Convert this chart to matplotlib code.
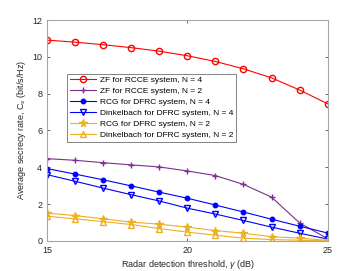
import matplotlib
matplotlib.use('Agg')
import matplotlib.pyplot as plt
import numpy as np

plt.rcParams['font.family'] = ['Liberation Sans', 'DejaVu Sans']
plt.rcParams['mathtext.fontset'] = 'custom'
plt.rcParams['mathtext.rm'] = 'Liberation Sans'
plt.rcParams['mathtext.it'] = 'Liberation Sans:italic'

gamma = np.arange(15, 26)
zf_n4 = [10.91, 10.8, 10.66, 10.5, 10.31, 10.06, 9.75, 9.35, 8.86, 8.2, 7.45]
zf_n2 = [4.47, 4.38, 4.25, 4.13, 4.02, 3.8, 3.55, 3.07, 2.38, 0.98, 0.12]
rcg_n4 = [3.93, 3.63, 3.32, 2.99, 2.65, 2.32, 1.95, 1.57, 1.18, 0.8, 0.43]
dink_n4 = [3.6, 3.24, 2.87, 2.51, 2.17, 1.78, 1.46, 1.11, 0.75, 0.42, 0.1]
rcg_n2 = [1.51, 1.38, 1.2, 1.02, 0.91, 0.75, 0.56, 0.42, 0.23, 0.15, 0.03]
dink_n2 = [1.34, 1.2, 1.05, 0.89, 0.67, 0.48, 0.31, 0.15, 0.07, 0.04, 0.0]

purple = (0.49, 0.18, 0.56)
yellow = (0.93, 0.69, 0.13)

fig = plt.figure(figsize=(3.62, 2.71), dpi=100)
ax = fig.add_axes([0.13, 0.111, 0.775, 0.815])

lw = 0.8
ax.plot(gamma, zf_n4, color='r', marker='o', mfc='none', ms=4.5, lw=lw, label='ZF for RCCE system, N = 4')
ax.plot(gamma, zf_n2, color=purple, marker='+', ms=5, lw=lw, label='ZF for RCCE system, N = 2')
ax.plot(gamma, rcg_n4, color='b', marker='o', ms=3.2, lw=lw, label='RCG for DFRC system, N = 4')
ax.plot(gamma, dink_n4, color='b', marker='v', mfc='none', ms=4.5, lw=lw, label='Dinkelbach for DFRC system, N = 4')
ax.plot(gamma, rcg_n2, color=yellow, marker='*', ms=5.5, lw=lw, label='RCG for DFRC system, N = 2')
ax.plot(gamma, dink_n2, color=yellow, marker='^', mfc='none', ms=4.5, lw=lw, label='Dinkelbach for DFRC system, N = 2')

ax.set_xlim(15, 25)
ax.set_ylim(0, 12)
ax.set_xticks([15, 20, 25])
ax.set_yticks(np.arange(0, 13, 2))
ax.tick_params(direction='in', labelsize=6.5, length=2.5, width=0.5, colors='0.15', top=True, right=True)
for s in ax.spines.values():
    s.set_color('0.65')
    s.set_linewidth(0.8)

ax.set_xlabel(r'Radar detection threshold, $\gamma$ (dB)', fontsize=6.5, color='0.15', labelpad=2)
ax.set_ylabel(r'Average secrecy rate, C$_s$ (bit/s/Hz)', fontsize=6.5, color='0.15', labelpad=3)

leg = ax.legend(loc='upper left', bbox_to_anchor=(0.072, 0.757), fontsize=6, frameon=True,
                fancybox=False, edgecolor='0.15', handlelength=3.2, handletextpad=0.4,
                labelspacing=0.38, borderpad=0.3, borderaxespad=0)
leg.get_frame().set_linewidth(0.5)

fig.savefig('out.png', dpi=100)
